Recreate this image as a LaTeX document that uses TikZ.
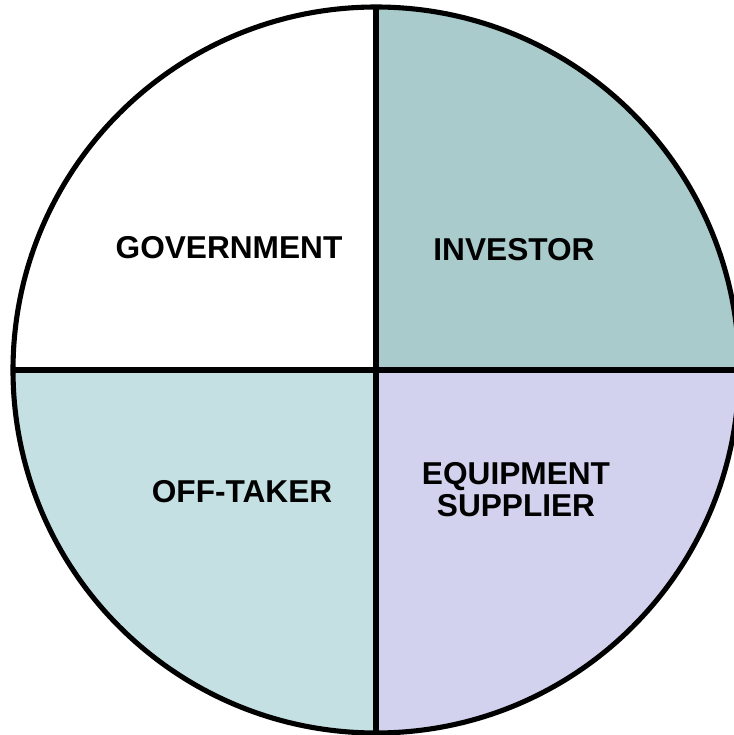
\documentclass[tikz,border=0pt]{standalone}
\usepackage{fontspec}
\setmainfont{Liberation Sans}
\definecolor{investorcol}{RGB}{169,203,204}
\definecolor{offtakercol}{RGB}{197,224,226}
\definecolor{suppliercol}{RGB}{210,210,238}
\begin{document}
\begin{tikzpicture}[x=0.02cm, y=0.02cm,
  every node/.style={font=\bfseries\fontsize{18}{18.2}\selectfont, align=center},
  rim/.style={line width=2.9pt}]
  \useasboundingbox (0,0) rectangle (734,735);
  % Centre of the pie
  \coordinate (O) at (376,365);
  \def\rad{363}

  % Quarters
  \fill[white] (O) -- ++(90:\rad) arc (90:180:\rad) -- cycle;
  \fill[investorcol] (O) -- ++(0:\rad) arc (0:90:\rad) -- cycle;
  \fill[offtakercol] (O) -- ++(180:\rad) arc (180:270:\rad) -- cycle;
  \fill[suppliercol] (O) -- ++(270:\rad) arc (270:360:\rad) -- cycle;

  % Rim and cross
  \draw[rim] (O) circle[radius=\rad];
  \draw[rim] (376,2) -- (376,728);
  \draw[rim] (13,365) -- (739,365);

  % Labels
  \node (gov) at (229,487) {GOVERNMENT};
  \node (inv) at (514,485) {INVESTOR};
  \node (off) at (242,243) {OFF-TAKER};
  \node (sup) at (516,245) {EQUIPMENT\\SUPPLIER};
\end{tikzpicture}
\end{document}
